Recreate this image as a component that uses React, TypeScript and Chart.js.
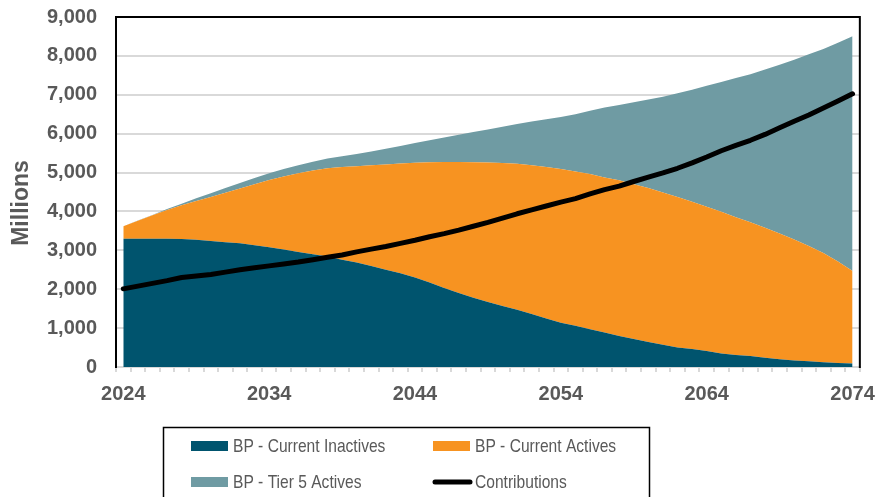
import React, { useEffect, useRef } from 'react';
import { Chart, registerables } from 'chart.js';

Chart.register(...registerables);

// ---- Data ----
const years = [
  '2024','2025','2026','2027','2028','2029','2030','2031','2032','2033',
  '2034','2035','2036','2037','2038','2039','2040','2041','2042','2043',
  '2044','2045','2046','2047','2048','2049','2050','2051','2052','2053',
  '2054','2055','2056','2057','2058','2059','2060','2061','2062','2063',
  '2064','2065','2066','2067','2068','2069','2070','2071','2072','2073',
  '2074',
];

const shownYearLabels = ['2024', '2034', '2044', '2054', '2064', '2074'];

const currentInactives = [
  3300, 3300, 3300, 3300, 3290, 3270, 3240, 3210, 3180, 3130,
  3080, 3020, 2960, 2900, 2840, 2760, 2690, 2600, 2500, 2410,
  2300, 2170, 2030, 1900, 1780, 1670, 1570, 1470, 1360, 1250,
  1140, 1060, 970, 890, 800, 720, 640, 570, 500, 460,
  410, 350, 310, 280, 240, 200, 170, 150, 120, 105,
  90,
];

const currentActives = [
  320, 460, 600, 740, 870, 1000, 1130, 1270, 1410, 1570,
  1730, 1880, 2020, 2150, 2270, 2380, 2475, 2590, 2710, 2825,
  2955, 3095, 3240, 3370, 3485, 3590, 3675, 3755, 3830, 3890,
  3950, 3970, 3990, 3980, 4000, 3980, 3960, 3920, 3870, 3790,
  3710, 3640, 3540, 3440, 3340, 3230, 3110, 2960, 2810, 2605,
  2380,
];

const tier5Actives = [
  0, 10, 10, 20, 40, 70, 100, 120, 140, 160,
  170, 190, 210, 230, 250, 280, 315, 350, 400, 450,
  505, 565, 630, 700, 775, 850, 935, 1025, 1120, 1230,
  1340, 1470, 1630, 1800, 1940, 2110, 2280, 2460, 2670, 2880,
  3110, 3340, 3580, 3810, 4070, 4340, 4620, 4930, 5250, 5630,
  6035,
];

const contributions = [
  2010, 2080, 2150, 2220, 2300, 2340, 2380, 2440, 2500, 2550,
  2600, 2650, 2700, 2760, 2820, 2880, 2960, 3030, 3100, 3180,
  3260, 3350, 3430, 3520, 3620, 3720, 3830, 3940, 4040, 4140,
  4240, 4330, 4450, 4560, 4650, 4770, 4880, 4990, 5110, 5250,
  5400, 5560, 5700, 5830, 5980, 6150, 6320, 6480, 6660, 6840,
  7025,
];

const seriesNames = [
  'BP - Current Inactives',
  'BP - Current Actives',
  'BP - Tier 5 Actives',
  'Contributions',
];

const COLORS = {
  inactives: '#00546E',
  actives: '#F79321',
  tier5: '#6F9BA3',
  contributions: '#000000',
  grid: '#D9D9D9',
  text: '#595959',
};

const FONT = "'Liberation Sans', Arial, Helvetica, sans-serif";

const framePlugin = {
  id: 'frameAndLegend',
  afterDraw(chart: any) {
    const { ctx, chartArea: a } = chart;
    ctx.save();
    // plot frame (top & right)
    ctx.strokeStyle = '#000';
    ctx.lineWidth = 2;
    ctx.beginPath();
    ctx.moveTo(a.left, a.top);
    ctx.lineTo(a.right, a.top);
    ctx.lineTo(a.right, a.bottom + 1);
    ctx.stroke();

    // axis title
    ctx.save();
    ctx.translate(22, 203);
    ctx.rotate(-Math.PI / 2);
    ctx.font = `bold 23px ${FONT}`;
    ctx.fillStyle = COLORS.text;
    ctx.textAlign = 'center';
    ctx.textBaseline = 'middle';
    ctx.fillText('Millions', 0, 0);
    ctx.restore();

    // legend box
    ctx.strokeStyle = '#000';
    ctx.lineWidth = 1.5;
    ctx.strokeRect(163.5, 427.5, 486, 90);

    const colX = [191, 433];
    const rowY = [446, 482];
    const textOffset = 42;
    ctx.font = `19px ${FONT}`;
    ctx.textBaseline = 'middle';
    ctx.textAlign = 'left';
    chart.data.datasets.forEach((ds: any, i: number) => {
      const cx = colX[i % 2];
      const cy = rowY[Math.floor(i / 2)];
      if (ds.fill === false) {
        ctx.strokeStyle = ds.borderColor;
        ctx.lineWidth = 5;
        ctx.lineCap = 'round';
        ctx.beginPath();
        ctx.moveTo(cx + 2, cy);
        ctx.lineTo(cx + 37, cy);
        ctx.stroke();
      } else {
        ctx.fillStyle = ds.backgroundColor;
        ctx.fillRect(cx, cy - 5, 37, 10);
      }
      ctx.save();
      ctx.translate(cx + textOffset, cy + 1);
      ctx.scale(0.82, 1);
      ctx.fillStyle = COLORS.text;
      ctx.fillText(ds.label, 0, 0);
      ctx.restore();
    });
    ctx.restore();
  },
};

export default function App() {
  const canvasRef = useRef<HTMLCanvasElement | null>(null);

  useEffect(() => {
    const canvas = canvasRef.current;
    if (!canvas) return;
    const chart = new Chart(canvas, {
      type: 'line',
      data: {
        labels: years,
        datasets: [
          {
            label: seriesNames[0],
            data: currentInactives,
            backgroundColor: COLORS.inactives,
            borderColor: COLORS.inactives,
            borderWidth: 0,
            pointRadius: 0,
            fill: 'origin',
            stack: 'bp',
            order: 1,
          },
          {
            label: seriesNames[1],
            data: currentActives,
            backgroundColor: COLORS.actives,
            borderColor: COLORS.actives,
            borderWidth: 0,
            pointRadius: 0,
            fill: '-1',
            stack: 'bp',
            order: 1,
          },
          {
            label: seriesNames[2],
            data: tier5Actives,
            backgroundColor: COLORS.tier5,
            borderColor: COLORS.tier5,
            borderWidth: 0,
            pointRadius: 0,
            fill: '-1',
            stack: 'bp',
            order: 1,
          },
          {
            label: seriesNames[3],
            data: contributions,
            backgroundColor: COLORS.contributions,
            borderColor: COLORS.contributions,
            borderWidth: 5,
            borderCapStyle: 'round',
            borderJoinStyle: 'round',
            pointRadius: 0,
            fill: false,
            stack: 'contrib',
            order: 0,
          },
        ],
      } as any,
      options: {
        responsive: false,
        animation: false,
        devicePixelRatio: 1,
        layout: { padding: { top: 17, right: 21, bottom: 90, left: 0 } },
        plugins: {
          legend: { display: false },
          tooltip: { enabled: false },
        },
        elements: { line: { tension: 0 } },
        scales: {
          x: {
            type: 'category',
            offset: true,
            border: { display: true, color: COLORS.grid, width: 2 },
            grid: {
              display: true,
              offset: true,
              drawOnChartArea: false,
              drawTicks: true,
              tickLength: 5,
              color: COLORS.grid,
              lineWidth: 2,
            },
            ticks: {
              autoSkip: false,
              maxRotation: 0,
              minRotation: 0,
              padding: 10,
              color: COLORS.text,
              font: { family: FONT, size: 20, weight: 'bold' },
              callback: (_v: any, idx: number) =>
                shownYearLabels.includes(years[idx]) ? years[idx] : '',
            },
            afterFit: (scale: any) => {
              scale.height = 40;
            },
          },
          y: {
            stacked: true,
            min: 0,
            max: 9000,
            border: { display: true, color: '#000', width: 2 },
            grid: {
              color: COLORS.grid,
              lineWidth: 2,
              drawTicks: true,
              tickLength: 19,
              tickColor: 'rgba(0,0,0,0)',
            },
            ticks: {
              stepSize: 1000,
              padding: 0,
              color: COLORS.text,
              font: { family: FONT, size: 20, weight: 'bold' },
              callback: (v: any) => Number(v).toLocaleString('en-US'),
            },
            afterFit: (scale: any) => {
              scale.width = 116;
            },
          },
        },
      } as any,
      plugins: [framePlugin],
    });
    return () => chart.destroy();
  }, []);

  return (
    <div style={{ position: 'fixed', left: 0, top: 0, width: 885, height: 497, background: '#fff' }}>
      <canvas ref={canvasRef} width={885} height={497} style={{ display: 'block' }} />
    </div>
  );
}
